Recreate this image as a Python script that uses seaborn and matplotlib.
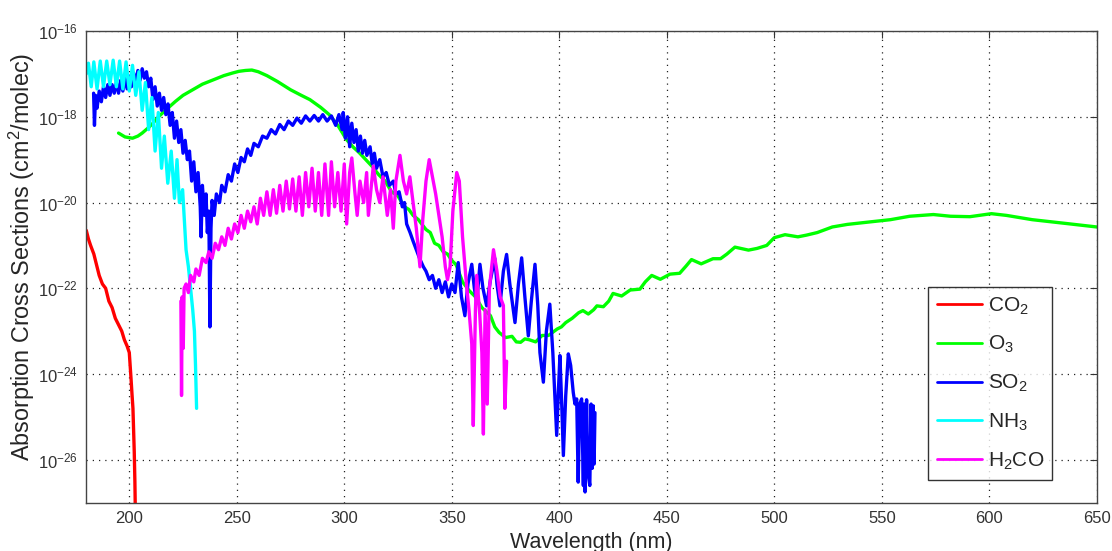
import numpy as np
import pandas as pd
import matplotlib
matplotlib.use("Agg")
import matplotlib.pyplot as plt
import seaborn as sns

# --- Data: wavelength (nm) and log10 of cross section (cm^2/molec) ---

co2_nm = [180, 181, 182, 183.5, 185, 186, 187.5, 189, 190.5, 192, 193.5, 195, 196.5,
          197.7, 199, 200, 200.8, 201.3, 201.7, 202.0, 202.3, 202.6, 202.9]
co2_exp = [-20.65, -20.85, -21.0, -21.2, -21.5, -21.7, -21.9, -22.0, -22.3, -22.45, -22.7,
           -22.85, -23.0, -23.2, -23.35, -23.5, -24.1, -24.5, -24.8, -25.3, -25.8, -26.5, -27.5]

o3_nm = [195, 198, 201.5, 204, 206, 209, 211, 214, 217, 221.5, 225, 229.5, 234, 239, 244,
         248, 251, 254, 257, 260, 264, 269, 275, 280, 284, 289, 293, 297, 301, 304, 307,
         310, 313, 316, 319, 322, 325, 328, 330, 332, 334.5, 336, 338, 340, 342, 344, 346,
         348, 350, 352, 355, 358, 361, 364, 368, 370, 372, 375, 378, 380, 382, 384, 386,
         389, 392, 395, 399, 401, 403, 406, 409, 411, 413.5, 416, 417.5, 420.5, 423, 425,
         429, 433, 437.5, 440, 443, 447, 451.5, 456, 459, 461.5, 466, 471.5, 475, 478,
         481.7, 488, 492, 496.5, 500, 505, 511, 515, 520, 527, 534, 543, 554, 563, 574,
         582, 591, 601, 608, 620, 636, 650]
o3_exp = [-18.38, -18.47, -18.50, -18.45, -18.38, -18.25, -18.15, -17.98, -17.84, -17.64,
          -17.50, -17.37, -17.24, -17.14, -17.04, -16.98, -16.94, -16.92, -16.91, -16.95,
          -17.04, -17.18, -17.37, -17.5, -17.6, -17.78, -17.95, -18.2, -18.53, -18.7,
          -18.84, -19.0, -19.16, -19.35, -19.5, -19.75, -19.85, -20.1, -20.16, -20.3,
          -20.4, -20.5, -20.63, -20.7, -20.95, -21.0, -21.15, -21.2, -21.35, -21.45,
          -21.85, -22.05, -22.2, -22.45, -22.64, -22.9, -23.03, -23.15, -23.12, -23.25,
          -23.26, -23.18, -23.2, -23.25, -23.1, -23.1, -22.95, -22.9, -22.8, -22.7, -22.57,
          -22.52, -22.6, -22.5, -22.41, -22.43, -22.3, -22.12, -22.18, -22.04, -22.02,
          -21.85, -21.70, -21.79, -21.67, -21.65, -21.48, -21.33, -21.43, -21.31, -21.31,
          -21.2, -21.04, -21.11, -21.07, -21.0, -20.82, -20.75, -20.8, -20.76, -20.7,
          -20.57, -20.51, -20.46, -20.40, -20.32, -20.28, -20.32, -20.33, -20.26, -20.30,
          -20.40, -20.49, -20.57]

so2_nm = [183.4, 183.8, 184.3, 185, 186, 187, 188, 189, 190, 191, 192, 193, 194, 195, 196,
          197, 198, 199, 200, 201, 202, 203, 204, 205, 206, 207, 208, 209, 210, 211, 212,
          213, 214, 215, 216, 217, 218, 219, 220, 221, 222, 223, 224, 225, 226, 227, 228,
          229, 230, 231, 232, 233, 233.4, 234, 235, 235.7, 236.3, 237, 237.5, 238, 238.5,
          239.5, 240.5, 242, 243, 244.5, 246, 247.5, 249, 250.5, 252, 253.5, 255, 256.5,
          258, 260, 262, 264, 266, 268, 270, 272, 274, 276, 278, 280, 282, 284, 286, 288,
          290, 292, 294, 296, 297.5, 299, 299.5, 300.5, 301.5, 302.5, 303.5, 304.5, 305.5,
          306.5, 307.5, 308.5, 309.5, 310.5, 312, 313, 314, 315, 316.5, 318, 319.5, 321,
          322.8, 324, 325.5, 327, 328, 329, 330.6, 332, 333.5, 335, 336.8, 338, 339.5, 341,
          342.5, 344, 345.5, 347, 348.5, 350, 351.5, 353, 354.5, 356.1, 357.5, 359.3, 360.5,
          361.6, 363.1, 364.5, 366.2, 368, 370, 371, 372.4, 374, 375.5, 377, 379.4, 381,
          382.5, 384, 385.6, 387, 388.7, 390, 391, 392.6, 394, 395.6, 397, 398.8, 399.5,
          400.3, 401.2, 401.9, 403, 404.2, 405.3, 406.5, 407.3, 408.1, 408.8, 409.5, 410.4,
          411.2, 411.6, 412, 412.7, 413.3, 414.2, 414.8, 415.3, 415.8, 416.2, 416.6]
so2_exp = [-17.45, -18.2, -17.5, -17.8, -17.4, -17.65, -17.3, -17.55, -17.25, -17.5, -17.25,
           -17.45, -17.2, -17.45, -17.15, -17.4, -17.1, -17.35, -17.05, -17.3, -16.98, -17.2,
           -16.92, -17.15, -16.88, -17.1, -16.95, -17.3, -17.1, -17.6, -17.3, -17.75, -17.45,
           -17.85, -17.55, -17.95, -17.7, -18.2, -17.9, -18.5, -18.1, -18.6, -18.3, -18.85,
           -18.55, -19.0, -18.8, -19.5, -19.05, -19.75, -19.3, -20.1, -20.8, -19.6, -20.3,
           -19.8, -20.7, -20.2, -22.9, -20.6, -19.95, -20.3, -19.8, -20.0, -19.6, -19.75,
           -19.35, -19.5, -19.1, -19.3, -18.95, -19.05, -18.75, -18.9, -18.62, -18.7, -18.45,
           -18.5, -18.3, -18.4, -18.18, -18.3, -18.1, -18.2, -18.03, -18.15, -17.98, -18.1,
           -17.97, -18.1, -17.95, -18.1, -17.98, -18.2, -17.95, -18.3, -17.9, -18.5, -18.0,
           -18.7, -18.15, -18.6, -18.3, -18.8, -18.45, -18.85, -18.55, -18.9, -18.7, -19.1,
           -18.85, -19.2, -19.0, -19.4, -19.3, -19.6, -19.5, -19.8, -19.75, -20.1, -20.0,
           -20.5, -20.7, -20.9, -21.1, -21.3, -21.5, -21.6, -21.8, -21.7, -22.0, -21.8,
           -22.1, -21.85, -22.2, -21.9, -22.1, -21.4, -22.2, -22.64, -21.9, -21.44, -22.0,
           -22.33, -21.44, -22.0, -22.41, -21.8, -21.3, -21.9, -22.41, -21.6, -21.21, -21.9,
           -22.8, -21.9, -21.29, -22.2, -23.11, -22.3, -21.44, -22.4, -23.5, -24.19, -23.0,
           -22.37, -23.5, -25.43, -24.5, -23.57, -24.8, -25.9, -24.5, -23.53, -23.8, -24.43,
           -24.7, -24.58, -26.52, -24.7, -24.58, -26.6, -24.7, -26.75, -24.6, -26.3, -26.6,
           -24.7, -26.2, -24.74, -26.1, -24.9]

nh3_nm = [180, 181, 182.3, 183.5, 185, 186.5, 188, 189.5, 191, 192.5, 194, 195.5, 197,
          198.5, 200, 201.5, 203, 204.5, 206, 207.5, 209, 210.5, 212, 213.5, 215, 216.3,
          217.9, 219.5, 221, 222.2, 223.3, 224.8, 226.4, 227.5, 228.5, 229.5, 230.3, 230.8,
          231.3]
nh3_exp = [-17.0, -16.75, -17.3, -16.72, -17.35, -16.7, -17.3, -16.7, -17.25, -16.68, -17.3,
           -16.7, -17.35, -16.72, -17.4, -16.8, -17.5, -16.95, -17.85, -17.2, -18.3, -17.55,
           -18.8, -17.9, -19.2, -18.45, -19.55, -18.8, -19.9, -19.0, -20.0, -19.7, -21.1,
           -21.5, -22.0, -22.5, -23.0, -23.8, -24.8]

h2co_nm = [224.0, 224.3, 224.6, 225.1, 225.5, 226.4, 227.5, 228.5, 230, 231, 232.5, 234,
           235.7, 237, 238.5, 240, 241.5, 243, 244.5, 246, 247.5, 249, 250.5, 252, 253.5,
           255, 256.5, 258, 259.5, 261, 262.5, 264, 265.5, 267, 268.5, 270, 271.5, 273,
           274.5, 276, 277.5, 279, 280.5, 282, 283.5, 285, 286.5, 288, 289.5, 291, 292.7,
           294, 295.5, 297, 298.5, 300, 301.1, 302.5, 303.5, 305, 306, 307.3, 309, 310.4,
           311.2, 313.5, 315, 316.5, 318, 320, 321.5, 322.8, 324, 325.9, 327.5, 329, 330.5,
           332, 333.5, 335.2, 336.5, 338, 339.5, 341, 342.5, 344, 345.5, 347, 348, 349.2,
           350.5, 352.3, 353.5, 355, 356.9, 358, 359.3, 360, 361, 361.6, 363, 364, 364.7,
           365.5, 366.5, 367.5, 369.4, 371, 372.5, 374, 374.7, 375.5]
h2co_exp = [-22.3, -24.5, -22.2, -23.4, -22.0, -21.9, -22.1, -21.7, -21.85, -21.55, -21.7,
            -21.3, -21.4, -21.15, -21.3, -20.95, -21.1, -20.8, -21.0, -20.6, -20.85, -20.5,
            -20.7, -20.3, -20.6, -20.2, -20.45, -20.1, -20.5, -19.9, -20.3, -19.75, -20.3,
            -19.7, -20.25, -19.6, -20.2, -19.5, -20.15, -19.45, -20.2, -19.4, -20.3, -19.3,
            -20.1, -19.2, -20.2, -19.3, -20.3, -19.1, -20.3, -19.05, -20.1, -19.3, -20.2,
            -19.1, -20.5, -19.3, -18.96, -19.8, -20.3, -19.5, -20.0, -19.3, -20.3, -19.15,
            -19.7, -20.0, -19.4, -20.3, -19.7, -20.6, -19.5, -18.9, -19.5, -19.8, -19.4,
            -20.0, -20.6, -21.5, -20.4, -19.5, -19.0, -19.4, -19.8, -20.3, -20.8, -21.5,
            -21.8, -21.5, -20.2, -19.3, -19.5, -20.8, -21.95, -22.5, -23.3, -25.2, -22.5,
            -21.7, -22.6, -23.5, -25.4, -22.5, -24.7, -22.0, -21.1, -21.6, -22.2, -22.4,
            -24.8, -23.7]

species = ["CO$_2$", "O$_3$", "SO$_2$", "NH$_3$", "H$_2$CO"]
colors = ["#ff0000", "#00ff00", "#0000ff", "#00ffff", "#ff00ff"]
series = [(co2_nm, co2_exp), (o3_nm, o3_exp), (so2_nm, so2_exp),
          (nh3_nm, nh3_exp), (h2co_nm, h2co_exp)]

# long table for seaborn
frames = []
for name, (nm, ex) in zip(species, series):
    frames.append(pd.DataFrame({"wavelength": nm,
                                "xsec": 10.0 ** np.array(ex),
                                "species": name}))
df = pd.concat(frames, ignore_index=True)

sns.set_theme(style="white")
plt.rcParams["font.family"] = ["Liberation Sans", "DejaVu Sans"]
plt.rcParams["mathtext.default"] = "regular"

fig = plt.figure(figsize=(11.12, 5.51), dpi=100)
ax = fig.add_axes([0.0776, 0.0877, 0.9087, 0.856])

sns.lineplot(data=df, x="wavelength", y="xsec", hue="species", hue_order=species,
             palette=dict(zip(species, colors)), estimator=None, sort=False,
             linewidth=2.4, ax=ax)

ax.set_yscale("log")
ax.set_xlim(180, 650)
ax.set_ylim(1e-27, 1e-16)
ax.set_xticks(np.arange(200, 651, 50))
ax.set_xticklabels([str(v) for v in range(200, 651, 50)])
yexp = [-26, -24, -22, -20, -18, -16]
ax.set_yticks([10.0 ** e for e in yexp])
ax.set_yticklabels([f"$10^{{{e}}}$" for e in yexp])
ax.yaxis.set_minor_locator(matplotlib.ticker.NullLocator())

ax.tick_params(axis="both", which="major", direction="in", length=5, width=0.8,
               top=True, right=True, labelsize=12, colors="#333333", pad=6)
ax.tick_params(axis="both", labelcolor="#333333")
ax.grid(True, which="major", linestyle=(0, (1, 4)), color="#222222", linewidth=0.9)
for s in ax.spines.values():
    s.set_color("#444444")
    s.set_linewidth(1.0)

ax.set_xlabel("Wavelength (nm)", fontsize=15.5, labelpad=4)
ax.set_ylabel("Absorption Cross Sections (cm$^2$/molec)", fontsize=16.8)
ax.yaxis.set_label_coords(-0.049, 0.521)

leg = ax.legend(loc="lower right", bbox_to_anchor=(0.956, 0.048), borderaxespad=0,
                fontsize=15, frameon=True, fancybox=False, handlelength=2.2,
                handletextpad=0.25, labelspacing=0.84, borderpad=0.4)
leg.get_frame().set_edgecolor("#000000")
leg.get_frame().set_linewidth(1.0)
for line in leg.get_lines():
    line.set_linewidth(2.0)

fig.savefig("out.png", dpi=100)
